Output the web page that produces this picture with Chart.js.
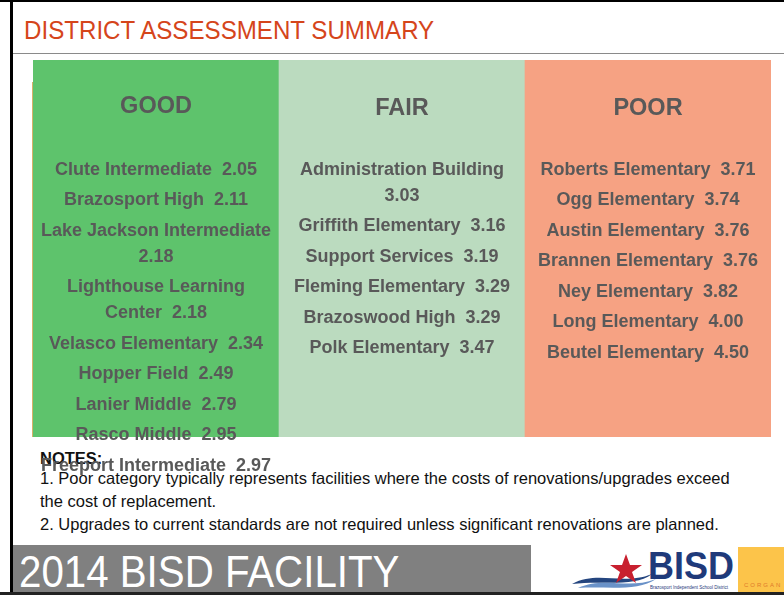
<!DOCTYPE html>
<html>
<head>
<meta charset="utf-8">
<script src="https://cdn.jsdelivr.net/npm/chart.js@4.4.1/dist/chart.umd.min.js"></script>
<style>
  html, body { margin: 0; padding: 0; background: #fff; }
  #slide { position: relative; width: 784px; height: 595px; overflow: hidden; background: #fff; font-family: "Liberation Sans", Arial, sans-serif; }
  #frameL { position: absolute; left: 10px; top: 0; width: 3px; height: 595px; background: #000; }
  #frameT { position: absolute; left: 0; top: 0; width: 784px; height: 2px; background: #000; }
  #frameB { position: absolute; left: 0; top: 592px; width: 784px; height: 3px; background: #222; z-index: 3; }
  #title { position: absolute; left: 24px; top: 16px; font-size: 25px; color: #d5451b; white-space: nowrap; transform-origin: left top; transform: scaleX(0.965); }
  #rule { position: absolute; left: 13px; top: 53px; width: 771px; height: 1px; background: #8a8a8a; }
  #tan { position: absolute; left: 32px; top: 82px; width: 1px; height: 355px; background: #d8b06a; }
  #chart { position: absolute; left: 0; top: 0; z-index: 2; }
  #notes { position: absolute; left: 40px; top: 449px; font-family: "Liberation Sans Narrow", "Liberation Sans", sans-serif; font-size: 16.5px; line-height: 23px; color: #111; white-space: nowrap; }
  #notes b { display: block; line-height: 18px; }
  #footer { position: absolute; left: 13px; top: 545px; width: 518px; height: 47px; background: #808080; }
  #footer span { position: absolute; left: 6px; top: 2px; font-size: 44px; color: #fff; white-space: nowrap; transform-origin: left top; transform: scaleX(0.915); }
  #logo { position: absolute; left: 570px; top: 546px; }
  #corgan { position: absolute; left: 738px; top: 547px; width: 46px; height: 45px; background: #fcc44a; }
  #corgan span { position: absolute; left: 6px; top: 35px; font-size: 6px; letter-spacing: 2px; color: #e07a2a; }
</style>
</head>
<body>
<div id="slide">
  <div id="frameT"></div>
  <div id="frameL"></div>
  <div id="title">DISTRICT ASSESSMENT SUMMARY</div>
  <div id="rule"></div>
  <div id="tan"></div>
  <div id="notes">
    <b>NOTES:</b>
    1. Poor category typically represents facilities where the costs of renovations/upgrades exceed<br>
    the cost of replacement.<br>
    2. Upgrades to current standards are not required unless significant renovations are planned.
  </div>
  <canvas id="chart" width="784" height="595"></canvas>
  <div id="footer"><span>2014 BISD FACILITY</span></div>
  <svg id="logo" width="165" height="46" viewBox="0 0 165 46">
    <path d="M2 38 C28 24 52 40 82 28 C64 42 32 34 2 38 Z" fill="#24457f"/>
    <path d="M8 42 C34 30 58 44 86 33 C68 46 36 40 8 42 Z" fill="#6a92c8"/>
    <polygon points="56,8 60,19 72,19 62,26 66,37 56,30 46,37 50,26 40,19 52,19" fill="#c8202f"/>
    <text x="78" y="33" font-family="Liberation Sans" font-weight="bold" font-size="38" fill="#1f3a7a" textLength="86" lengthAdjust="spacingAndGlyphs">BISD</text>
    <text x="80" y="43" font-family="Liberation Sans" font-size="4.5" fill="#1f3a7a">Brazosport Independent School District</text>
  </svg>
  <div id="corgan"><span>CORGAN</span></div>
  <div id="frameB"></div>
</div>
<script>
'use strict';

/* ── data ── */
const categories = ['GOOD', 'FAIR', 'POOR'];
const columnValues = [1, 1, 1];
const columnColors = ['#5ec36c', '#bbdbbf', '#f6a283'];

const goodNames  = ['Clute Intermediate', 'Brazosport High', 'Lake Jackson Intermediate', 'Lighthouse Learning Center',
                    'Velasco Elementary', 'Hopper Field', 'Lanier Middle', 'Rasco Middle', 'Freeport Intermediate'];
const goodScores = ['2.05', '2.11', '2.18', '2.18', '2.34', '2.49', '2.79', '2.95', '2.97'];

const fairNames  = ['Administration Building', 'Griffith Elementary', 'Support Services', 'Fleming Elementary',
                    'Brazoswood High', 'Polk Elementary'];
const fairScores = ['3.03', '3.16', '3.19', '3.29', '3.29', '3.47'];

const poorNames  = ['Roberts Elementary', 'Ogg Elementary', 'Austin Elementary', 'Brannen Elementary',
                    'Ney Elementary', 'Long Elementary', 'Beutel Elementary'];
const poorScores = ['3.71', '3.74', '3.76', '3.76', '3.82', '4.00', '4.50'];

const columnNames  = [goodNames, fairNames, poorNames];
const columnScores = [goodScores, fairScores, poorScores];

/* wrap a line to fit maxW */
function wrapText(ctx, text, maxW) {
  const words = text.split(' ');
  const lines = [];
  let cur = '';
  words.forEach(w => {
    const test = cur === '' ? w : cur + ' ' + w;
    if (ctx.measureText(test).width > maxW && cur !== '') {
      lines.push(cur.replace(/\s+$/, ''));
      cur = w;
    } else cur = test;
  });
  if (cur) lines.push(cur);
  return lines;
}

/* ── list text inside each column ── */
const columnText = {
  id: 'columnText',
  afterDraw(chart) {
    const ctx = chart.ctx;
    const area = chart.chartArea;
    const meta = chart.getDatasetMeta(0);
    ctx.save();
    ctx.fillStyle = '#595959';
    ctx.textAlign = 'center';
    ctx.textBaseline = 'middle';
    categories.forEach((cat, i) => {
      const bar = meta.data[i];
      const x = bar.x;
      const w = bar.width;
      ctx.font = 'bold 23.5px "Liberation Sans", Arial, sans-serif';
      ctx.fillText(cat, x, area.top + (i === 0 ? 47 : 49));
      ctx.font = 'bold 18px "Liberation Sans", Arial, sans-serif';
      let y = area.top + 110;
      columnNames[i].forEach((name, j) => {
        const lines = wrapText(ctx, name + '  ' + columnScores[i][j], w - 10);
        lines.forEach((ln, k) => {
          ctx.fillText(ln, x, y);
          y += (k < lines.length - 1) ? 26 : 30.5;
        });
      });
    });
    ctx.restore();
  }
};

new Chart(document.getElementById('chart'), {
  type: 'bar',
  data: {
    labels: categories,
    datasets: [{
      data: columnValues,
      backgroundColor: columnColors,
      borderWidth: 0,
      barPercentage: 1,
      categoryPercentage: 1
    }]
  },
  options: {
    responsive: false,
    animation: false,
    events: [],
    layout: { padding: { left: 33, right: 13, top: 60, bottom: 158 } },
    plugins: { legend: { display: false }, tooltip: { enabled: false } },
    scales: {
      x: { display: false },
      y: { display: false, min: 0, max: 1 }
    }
  },
  plugins: [columnText]
});
</script>
</body>
</html>
